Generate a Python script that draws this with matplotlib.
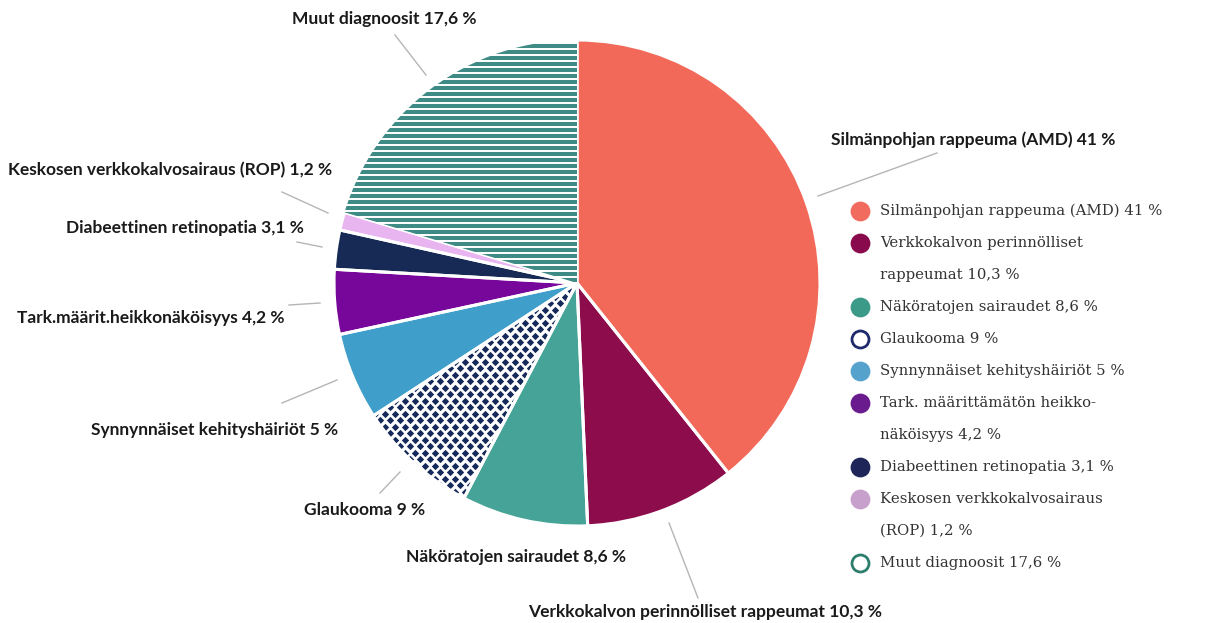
import numpy as np
import matplotlib.pyplot as plt

# Data
slice_labels = ["Silmänpohjan rappeuma (AMD) 41 %",
                "Verkkokalvon perinnölliset rappeumat 10,3 %",
                "Näköratojen sairaudet 8,6 %",
                "Glaukooma 9 %",
                "Synnynnäiset kehityshäiriöt 5 %",
                "Tark.määrit.heikkonäköisyys 4,2 %",
                "Diabeettinen retinopatia 3,1 %",
                "Keskosen verkkokalvosairaus (ROP) 1,2 %",
                "Muut diagnoosit 17,6 %"]
# slice sizes as drawn in the picture (the drawn wedges differ a bit from the printed %)
values = [39.3, 10.0, 8.4, 8.1, 5.8, 4.3, 2.6, 1.2, 20.3]
legend_labels = ["Silmänpohjan rappeuma (AMD) 41 %",
                 "Verkkokalvon perinnölliset\nrappeumat 10,3 %",
                 "Näköratojen sairaudet 8,6 %",
                 "Glaukooma 9 %",
                 "Synnynnäiset kehityshäiriöt 5 %",
                 "Tark. määrittämätön heikko-\nnäköisyys 4,2 %",
                 "Diabeettinen retinopatia 3,1 %",
                 "Keskosen verkkokalvosairaus\n(ROP) 1,2 %",
                 "Muut diagnoosit 17,6 %"]

# Styles
face_colors = ['#f2695a', '#8c0c4c', '#45a397', '#ffffff', '#3f9fca',
               '#77079b', '#172a55', '#e9b5f0', '#ffffff']
legend_face = ['#f26b5f', '#8a0a4e', '#3c9a88', '#ffffff', '#55a3cc',
               '#6a1b8e', '#1e2659', '#c8a0cc', '#ffffff']
legend_edge = ['#f26b5f', '#8a0a4e', '#3c9a88', '#1d2a6b', '#55a3cc',
               '#6a1b8e', '#1e2659', '#c8a0cc', '#2e7e6e']

# label layout in pixels: text centre, leader line start / end
label_pos = [(973, 140), (705, 612), (516, 557), (365, 510), (215, 430),
             (151, 318), (185, 228), (170, 170), (384, 19)]
leader = [((818, 196), (937, 153)), ((669, 523), (698, 598)), None,
          ((400, 472), (380, 493)), ((337, 380), (282, 403)),
          ((320, 303), (289, 305)), ((322, 247), (297, 242)),
          ((328, 213), (282, 192)), ((426, 75), (395, 35))]

W, H = 1207, 623
cx, cy, r = 577, 283, 243
fig = plt.figure(figsize=(W / 100, H / 100), dpi=100)

ax = fig.add_axes([(cx - r) / W, 1 - (cy + r) / H, 2 * r / W, 2 * r / H])
wedges, _ = ax.pie(values, startangle=90, counterclock=False, radius=1,
                   colors=face_colors, wedgeprops=dict(linewidth=0))

# horizontal stripes for "Muut diagnoosit"
ys = np.arange(-1.0, 1.0, 6.0 / r)
stripes = ax.hlines(ys, -1.05, 1.05, color='#3e8b86', lw=2.9)
stripes.set_clip_path(wedges[8])

# diamond dots for "Glaukooma"
gx, gy = np.meshgrid(np.arange(-1.1, 1.1, 10.0 / r), np.arange(-1.1, 1.1, 6.5 / r))
gx[1::2] += 5.0 / r
dots = ax.scatter(gx.ravel(), gy.ravel(), marker='D', s=14, color='#15295a',
                  linewidths=0)
dots.set_clip_path(wedges[3])

# white borders between slices
ax.pie(values, startangle=90, counterclock=False, radius=1,
       colors=['none'] * len(values),
       wedgeprops=dict(linewidth=2.2, edgecolor='white', facecolor='none'))
ax.set_xlim(-1, 1)
ax.set_ylim(-1, 1)
ax.axis('off')

# overlay in pixel coordinates for labels and legend
ov = fig.add_axes([0, 0, 1, 1])
ov.set_xlim(0, W)
ov.set_ylim(H, 0)
ov.axis('off')
ov.patch.set_alpha(0)

for lab, (tx, ty), ln in zip(slice_labels, label_pos, leader):
    ov.text(tx, ty, lab, ha='center', va='center', fontsize=12.5,
            fontweight='bold', family='Lato', color='#1a1a1a')
    if ln:
        ov.plot([ln[0][0], ln[1][0]], [ln[0][1], ln[1][1]],
                color='#b5b5b5', lw=1)

# legend
y = 211
for lab, fc, ec in zip(legend_labels, legend_face, legend_edge):
    ov.scatter([860], [y], s=150, color=fc, edgecolors=ec, linewidths=2)
    for line in lab.split('\n'):
        ov.text(880, y, line, ha='left', va='center', fontsize=10.7,
                family='DejaVu Serif', color='#333333')
        y += 32

fig.savefig('out.png', dpi=100, facecolor='white')
